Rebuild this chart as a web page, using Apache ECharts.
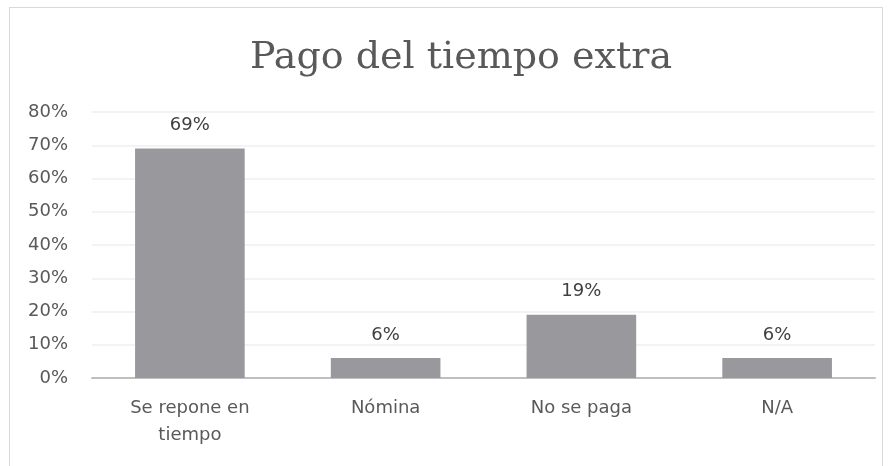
<!DOCTYPE html>
<html>
<head>
<meta charset="utf-8">
<script src="https://cdn.jsdelivr.net/npm/echarts@6/dist/echarts.min.js"></script>
<style>
  html, body { margin: 0; padding: 0; background: #fff; }
  #frame { position: absolute; left: 9px; top: 7px; width: 874px; height: 470px; border: 1px solid #d9d9d9; box-sizing: border-box; }
  #chart { width: 889px; height: 466px; position: absolute; left: 0; top: 0; }
</style>
</head>
<body>
<div id="frame"></div>
<div id="chart"></div>
<script>
// categorias y valores (%)
var categories = ['Se repone en\ntiempo', 'Nómina', 'No se paga', 'N/A'];
var values = [69, 6, 19, 6];
var yTicks = [0, 10, 20, 30, 40, 50, 60, 70, 80];

var labelFont = 'DejaVu Sans, sans-serif';

var chart = echarts.init(document.getElementById('chart'));
var option = {
    animation: false,
    title: {
        text: 'Pago del tiempo extra',
        left: 245,
        top: 34,
        textStyle: {
            fontFamily: 'DejaVu Serif, serif',
            fontSize: 38,
            fontWeight: 'normal',
            color: '#595959'
        }
    },
    grid: { left: 92, right: 14, top: 112, bottom: 88 },
    xAxis: {
        type: 'category',
        data: categories,
        axisLine: { lineStyle: { color: '#bfbfbf', width: 2 } },
        axisTick: { show: false },
        axisLabel: {
            color: '#595959',
            fontSize: 18,
            fontFamily: labelFont,
            margin: 17,
            lineHeight: 27
        }
    },
    yAxis: {
        type: 'value',
        min: yTicks[0],
        max: yTicks[yTicks.length - 1],
        interval: 10,
        axisLine: { show: false },
        axisTick: { show: false },
        splitLine: { lineStyle: { color: '#efefef', width: 1.5 } },
        axisLabel: {
            formatter: '{value}%',
            color: '#595959',
            fontSize: 18,
            fontFamily: labelFont,
            margin: 24
        }
    },
    series: [{
        type: 'bar',
        data: values,
        barWidth: '56%',
        itemStyle: { color: '#99989d' },
        label: {
            show: true,
            position: 'top',
            distance: 14,
            formatter: '{c}%',
            color: '#404040',
            fontSize: 18,
            fontFamily: labelFont
        }
    }]
};
chart.setOption(option);
</script>
</body>
</html>
